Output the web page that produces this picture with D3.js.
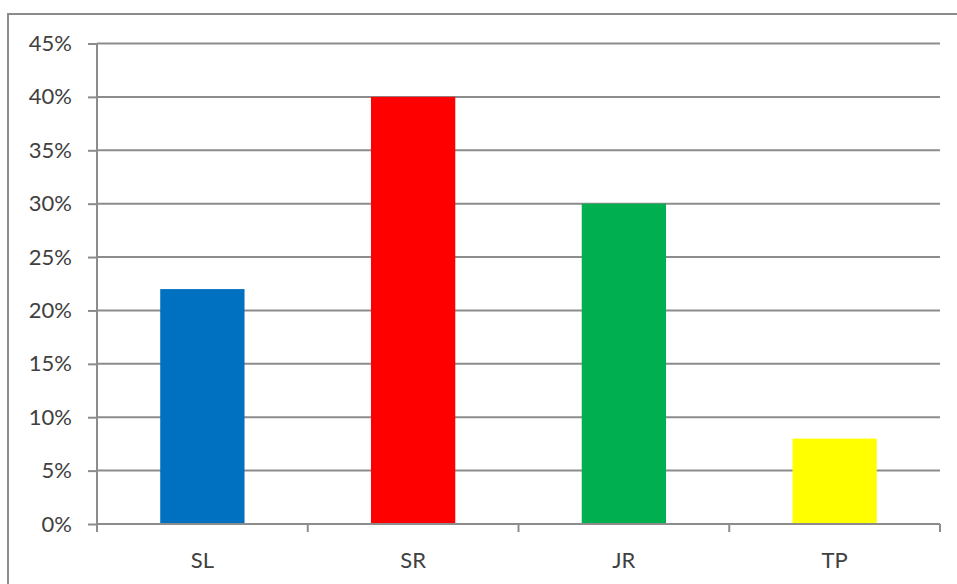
<!DOCTYPE html>
<html>
<head>
<meta charset="utf-8">
<script src="https://cdn.jsdelivr.net/npm/d3@7"></script>
<style>
  html, body { margin: 0; padding: 0; background: #fff; }
  svg { display: block; }
  text { font-family: Lato, "Open Sans", sans-serif; fill: #404040; }
</style>
</head>
<body>
<svg id="chart" width="957" height="584"></svg>
<script>
// Share of students by category
const categories = ["SL", "SR", "JR", "TP"];
const shares = [0.22, 0.40, 0.30, 0.08];
const barColors = ["#0070C0", "#FF0000", "#00B050", "#FFFF00"];
const yTicks = [0, 0.05, 0.10, 0.15, 0.20, 0.25, 0.30, 0.35, 0.40, 0.45];

const svg = d3.select("#chart");
const plot = { left: 97, right: 940, top: 43.5, bottom: 524 };
const gridColor = "#8c8c8c";

// outer chart frame
svg.append("rect")
  .attr("x", 8).attr("y", 14)
  .attr("width", 960).attr("height", 600)
  .attr("fill", "none").attr("stroke", gridColor).attr("stroke-width", 2);

const x = d3.scaleBand().domain(categories).range([plot.left, plot.right]).paddingInner(0.6).paddingOuter(0.3);
const xCat = d3.scaleBand().domain(categories).range([plot.left, plot.right]);
const y = d3.scaleLinear().domain([0, 0.45]).range([plot.bottom, plot.top]);

// horizontal gridlines
svg.append("g").selectAll("line").data(yTicks.slice(1)).join("line")
  .attr("x1", plot.left).attr("x2", plot.right)
  .attr("y1", d => y(d)).attr("y2", d => y(d))
  .attr("stroke", gridColor).attr("stroke-width", 2);

// bars
svg.append("g").selectAll("rect").data(categories).join("rect")
  .attr("x", d => x(d))
  .attr("width", x.bandwidth())
  .attr("y", (d, i) => y(shares[i]))
  .attr("height", (d, i) => y(0) - y(shares[i]))
  .attr("fill", (d, i) => barColors[i]);

// y axis
const yAxis = d3.axisLeft(y).tickValues(yTicks).tickFormat(d3.format(".0%")).tickSize(9).tickPadding(16);
const gy = svg.append("g").attr("transform", `translate(${plot.left},0)`).call(yAxis);
gy.select(".domain").attr("stroke", gridColor).attr("stroke-width", 2).attr("d", `M0,${plot.top}V${plot.bottom}`);
gy.selectAll(".tick line").attr("stroke", gridColor).attr("stroke-width", 2);
gy.selectAll(".tick text").attr("font-size", 22).attr("fill", "#404040").attr("font-family", "Lato, 'Open Sans', sans-serif");

// x axis with category separators
const gx = svg.append("g").attr("transform", `translate(0,${plot.bottom})`);
gx.append("line").attr("x1", plot.left).attr("x2", plot.right)
  .attr("stroke", gridColor).attr("stroke-width", 2);
const seps = categories.map(c => xCat(c)).concat([plot.right]);
gx.selectAll("line.sep").data(seps).join("line").attr("class", "sep")
  .attr("x1", d => d).attr("x2", d => d).attr("y1", 0).attr("y2", 8)
  .attr("stroke", gridColor).attr("stroke-width", 2);
gx.selectAll("text").data(categories).join("text")
  .attr("x", d => xCat(d) + xCat.bandwidth() / 2)
  .attr("y", 44)
  .attr("text-anchor", "middle")
  .attr("font-size", 22)
  .text(d => d);
</script>
</body>
</html>
